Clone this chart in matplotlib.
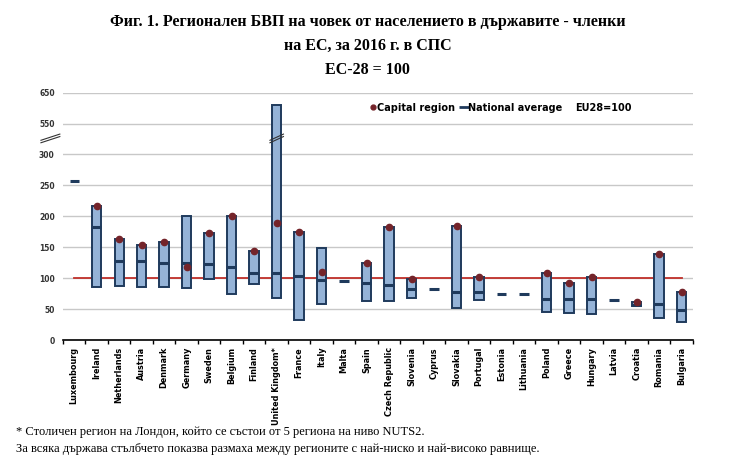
#!/usr/bin/env python3

import numpy as np
import matplotlib
matplotlib.use('Agg')
import matplotlib.pyplot as plt
from matplotlib.lines import Line2D
import matplotlib.transforms as mtransforms

countries = ['Luxembourg', 'Ireland', 'Netherlands', 'Austria', 'Denmark',
             'Germany', 'Sweden', 'Belgium', 'Finland', 'United Kingdom*',
             'France', 'Italy', 'Malta', 'Spain', 'Czech Republic',
             'Slovenia', 'Cyprus', 'Slovakia', 'Portugal', 'Estonia',
             'Lithuania', 'Poland', 'Greece', 'Hungary', 'Latvia',
             'Croatia', 'Romania', 'Bulgaria']

nan = np.nan
region_min = [nan, 85, 88, 86, 86, 84, 99, 75, 90, 68, 32, 58, nan, 63, 63,
              68, nan, 51, 64, nan, nan, 46, 44, 42, nan, 55, 35, 29]
region_max = [nan, 217, 164, 153, 159, 201, 173, 201, 144, 611, 175, 149, nan,
              125, 183, 99, nan, 185, 102, nan, nan, 109, 92, 102, nan, 62,
              139, 78]
national_avg = [257, 183, 128, 127, 124, 125, 123, 118, 109, 108, 104, 97, 96,
                92, 89, 82, 82, 77, 78, 74, 74, 67, 67, 66, 64, 57, 58, 49]
capital = [nan, 217, 164, 153, 159, 118, 173, 201, 144, 189, 175, 110, nan,
           125, 183, 99, nan, 185, 102, nan, nan, 109, 92, 102, nan, 61, 139,
           78]

y_ticks = [0, 50, 100, 150, 200, 250, 300, 550, 650]


def forward(v):
    v = np.asarray(v, dtype=float)
    return np.where(v <= 300, v,
                    np.where(v <= 550, 300 + (v - 300) * 0.2,
                             350 + (v - 550) * 0.5))


def inverse(y):
    y = np.asarray(y, dtype=float)
    return np.where(y <= 300, y,
                    np.where(y <= 350, 300 + (y - 300) * 5,
                             550 + (y - 350) * 2))


def main():
    navy = '#1f3a5c'
    fig = plt.figure(figsize=(7.35, 4.68), dpi=100)
    ax = fig.add_axes([0.0857, 0.2735, 0.857, 0.5285])
    ax.set_yscale('function', functions=(forward, inverse))

    x = np.arange(len(countries))
    lo = np.array(region_min, dtype=float)
    hi = np.array(region_max, dtype=float)
    ax.bar(x, hi - lo, bottom=lo, width=0.42, color='#95b3d7',
           edgecolor=navy, linewidth=1.4, zorder=3)
    ax.errorbar(x, national_avg, xerr=0.21, fmt='none', ecolor=navy,
                elinewidth=2.2, capsize=0, zorder=4)
    ax.plot(x, capital, 'o', color='#74242a', markersize=4.5, zorder=5)
    ax.plot([x[0], x[-1]], [100, 100], color='#c0302a', linewidth=1.3,
            zorder=2)

    ax.set_xlim(-0.5, len(countries) - 0.5)
    ax.set_ylim(0, 650)
    ax.set_yticks(y_ticks)
    ax.set_yticklabels([str(t) for t in y_ticks])
    ax.grid(axis='y', color='#c8c8c8', linewidth=1, zorder=0)
    ax.tick_params(axis='y', length=0, labelsize=5.5, pad=6,
                   labelcolor='#333333')
    ax.set_xticks(x)
    ax.set_xticklabels(countries, rotation=90, fontsize=5.9,
                       fontweight='bold')
    ax.set_xticks(np.arange(-0.5, len(countries)), minor=True)
    ax.tick_params(axis='x', which='major', length=0, pad=5)
    ax.tick_params(axis='x', which='minor', length=3, width=1,
                   direction='out', color='black')
    for lbl in ax.get_yticklabels():
        lbl.set_fontweight('bold')
    for side in ['top', 'right', 'left']:
        ax.spines[side].set_visible(False)
    ax.spines['bottom'].set_linewidth(1.2)

    # axis break marks
    trans = mtransforms.blended_transform_factory(ax.transAxes, ax.transData)
    for off in (0, 20):
        ax.plot([-0.035, -0.005], [395 + off, 445 + off], color='#333333',
                linewidth=0.8, transform=trans, clip_on=False)
        ax.plot([8.7, 9.3], [395 + off, 445 + off], color='#333333',
                linewidth=0.8, zorder=6)

    handles = [
        Line2D([], [], marker='o', color='#74242a', linestyle='none',
               markersize=3.5),
        Line2D([], [], marker='_', color=navy, linestyle='none',
               markersize=7, markeredgewidth=2),
        Line2D([], [], linestyle='none'),
    ]
    ax.legend(handles, ['Capital region', 'National average', 'EU28=100'],
              loc='center', bbox_to_anchor=(0.695, 0.94), ncol=3,
              frameon=False, handlelength=0.6, handletextpad=0.1,
              columnspacing=0.6, prop={'size': 7, 'weight': 'bold'})

    title_font = {'family': 'Liberation Serif', 'weight': 'bold',
                  'size': 11.5}
    fig.text(0.5, 0.953, 'Фиг. 1. Регионален БВП на човек от населението '
             'в държавите - членки', ha='center', va='center', **title_font)
    fig.text(0.5, 0.903, 'на ЕС, за 2016 г. в СПС', ha='center',
             va='center', **title_font)
    fig.text(0.5, 0.851, 'ЕС-28 = 100', ha='center', va='center',
             **title_font)

    note_font = {'family': 'Liberation Serif', 'size': 9}
    fig.text(0.022, 0.077, '* Столичен регион на Лондон, който се състои '
             'от 5 региона на ниво NUTS2.', ha='left', va='center',
             **note_font)
    fig.text(0.022, 0.040, 'За всяка държава стълбчето показва размаха '
             'между регионите с най-ниско и най-високо равнище.',
             ha='left', va='center', **note_font)

    plt.savefig('out.png', dpi=100)


if __name__ == "__main__":
    main()
